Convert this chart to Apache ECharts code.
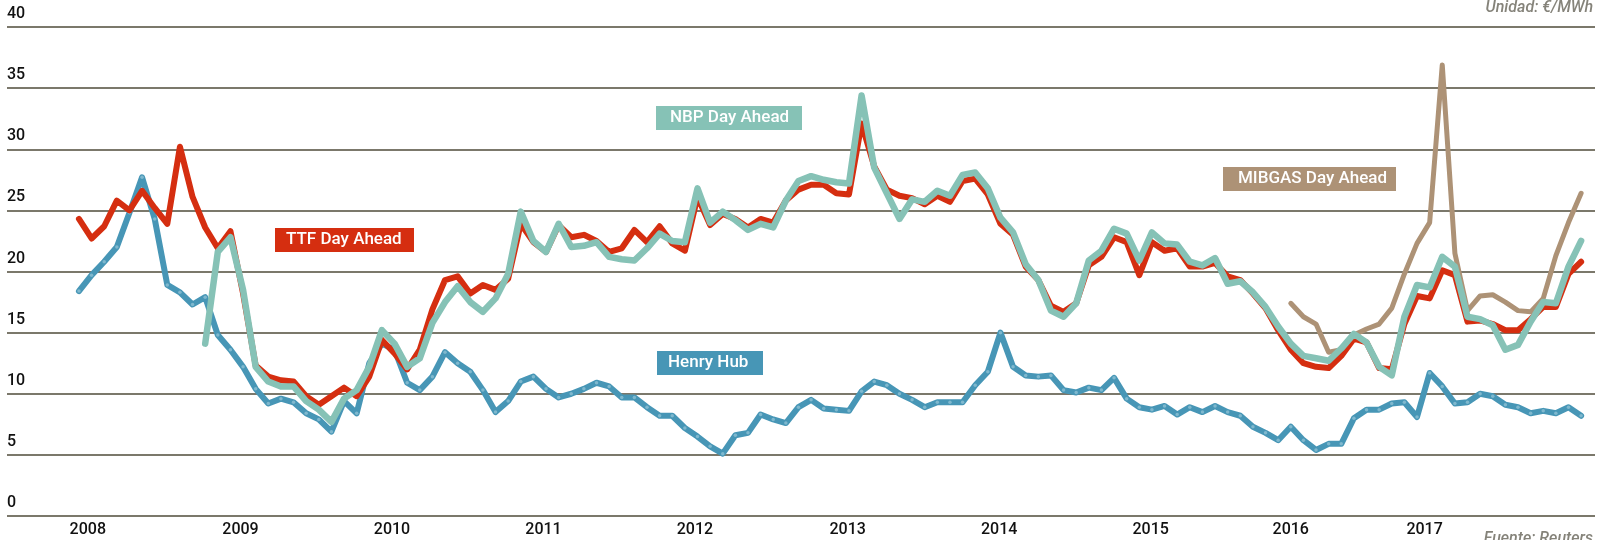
<!DOCTYPE html>
<html>
<head>
<meta charset="utf-8">
<script src="https://cdn.jsdelivr.net/npm/echarts@6/dist/echarts.min.js"></script>
<style>
  html, body { margin: 0; padding: 0; background: #fff; }
  #chart { width: 1610px; height: 540px; }
</style>
</head>
<body>
<div id="chart"></div>
<script>
// monthly averages, Jan 2008 - Dec 2017 (index 0 = 2008-01)
var henryHub = [
  18.4, 19.7, 20.8, 22.0, 24.8, 27.7, 24.3, 18.9, 18.3, 17.3, 17.9, 14.8,
  13.6, 12.2, 10.4, 9.2, 9.6, 9.3, 8.4, 7.9, 6.9, 9.4, 8.4, 12.5,
  14.1, 13.6, 10.9, 10.3, 11.4, 13.4, 12.5, 11.8, 10.3, 8.5, 9.4, 11.0,
  11.4, 10.4, 9.7, 10.0, 10.4, 10.9, 10.6, 9.7, 9.7, 8.9, 8.2, 8.2,
  7.2, 6.5, 5.7, 5.1, 6.6, 6.8, 8.3, 7.9, 7.6, 8.9, 9.5, 8.8,
  8.7, 8.6, 10.2, 11.0, 10.7, 10.0, 9.5, 8.9, 9.3, 9.3, 9.3, 10.7,
  11.8, 15.0, 12.2, 11.5, 11.4, 11.5, 10.3, 10.1, 10.5, 10.3, 11.3, 9.6,
  8.9, 8.7, 9.0, 8.3, 8.9, 8.5, 9.0, 8.5, 8.2, 7.3, 6.8, 6.2,
  7.3, 6.2, 5.4, 5.9, 5.9, 8.0, 8.7, 8.7, 9.2, 9.3, 8.1, 11.7,
  10.6, 9.2, 9.3, 10.0, 9.8, 9.1, 8.9, 8.4, 8.6, 8.4, 8.9, 8.2
]

var ttf = [
  24.3, 22.7, 23.7, 25.8, 25.0, 26.6, 25.2, 23.9, 30.2, 26.1, 23.6, 21.9,
  23.3, 18.2, 12.3, 11.4, 11.1, 11.0, 9.8, 9.1, 9.8, 10.5, 9.8, 11.4,
  14.4, 13.3, 12.0, 13.6, 16.9, 19.3, 19.6, 18.2, 18.9, 18.5, 19.4, 23.9,
  22.4, 21.6, 23.8, 22.8, 23.0, 22.5, 21.6, 21.9, 23.4, 22.4, 23.7, 22.3,
  21.7, 26.1, 23.8, 24.7, 24.3, 23.6, 24.3, 24.0, 25.8, 26.7, 27.1, 27.1,
  26.4, 26.3, 32.1, 28.6, 26.7, 26.2, 26.0, 25.5, 26.2, 25.7, 27.4, 27.6,
  26.3, 23.9, 23.0, 20.4, 19.3, 17.2, 16.7, 17.4, 20.5, 21.2, 22.8, 22.4,
  19.7, 22.4, 21.7, 21.9, 20.4, 20.4, 20.7, 19.6, 19.3, 18.2, 17.0, 15.2,
  13.6, 12.5, 12.2, 12.1, 13.1, 14.5, 14.2, 12.1, 12.0, 15.7, 18.0, 17.8,
  20.1, 19.7, 15.9, 16.0, 15.7, 15.2, 15.2, 16.1, 17.1, 17.1, 19.8, 20.8
]

// NBP series starts Nov 2008
var nbpStart = 10
var nbp = [
  14.1, 21.6,
  22.8, 18.5, 12.2, 11.0, 10.6, 10.6, 9.4, 8.7, 7.7, 9.6, 10.3, 12.2,
  15.2, 14.1, 12.2, 12.9, 15.8, 17.5, 18.8, 17.5, 16.7, 17.8, 19.8, 24.9,
  22.5, 21.6, 23.9, 22.0, 22.1, 22.4, 21.2, 21.0, 20.9, 21.9, 23.1, 22.5,
  22.4, 26.8, 24.0, 24.9, 24.2, 23.4, 23.9, 23.6, 25.8, 27.4, 27.8, 27.5,
  27.3, 27.2, 34.4, 28.5, 26.4, 24.3, 25.9, 25.7, 26.6, 26.2, 27.9, 28.1,
  26.8, 24.4, 23.2, 20.6, 19.3, 16.8, 16.3, 17.4, 20.9, 21.7, 23.5, 23.1,
  20.9, 23.2, 22.3, 22.2, 20.8, 20.5, 21.1, 19.0, 19.2, 18.3, 17.1, 15.5,
  14.1, 13.1, 12.9, 12.7, 13.7, 14.9, 14.2, 12.2, 11.5, 16.3, 18.9, 18.7,
  21.2, 20.4, 16.3, 16.1, 15.6, 13.6, 14.0, 15.9, 17.5, 17.4, 20.4, 22.5
]

// MIBGAS series starts Jan 2016
var mibgasStart = 96
var mibgas = [
  17.4, 16.3, 15.7, 13.4, 13.6, 14.8, 15.3, 15.7, 17.0, 19.8, 22.3, 24.0,
  36.9, 21.5, 16.8, 18.0, 18.1, 17.5, 16.8, 16.7, 17.8, 21.3, 24.0, 26.4
]

// year labels and where they sit on the month axis
var yearLabels = ['2008', '2009', '2010', '2011', '2012', '2013', '2014', '2015', '2016', '2017']
var yearLabelPos = [0.7, 12.8, 24.8, 36.8, 48.8, 60.9, 72.9, 84.9, 96.0, 106.6]

var yTicks = [0, 5, 10, 15, 20, 25, 30, 35, 40]

var colors = {
  ttf: '#d52e10',
  nbp: '#86c2b6',
  hh: '#4796b6',
  mibgas: '#ad9276',
  grid: '#7b786b'
}

function toPoints(values, start) {
  return values.map(function(v, k) {
    return [start + k, v]
  })
}

function lineSeries(name, data, color, width, z) {
  return {
    name: name,
    type: 'line',
    data: data,
    z: z,
    showSymbol: false,
    symbol: 'none',
    lineStyle: { color: color, width: width, cap: 'round', join: 'round' },
    itemStyle: { color: color },
    emphasis: { disabled: true }
  }
}

function labelBox(text, color, left, top, width, padLeft) {
  return {
    type: 'group',
    left: left,
    top: top,
    children: [
      { type: 'rect', shape: { x: 0, y: 0, width: width, height: 24 }, style: { fill: color } },
      {
        type: 'text',
        x: padLeft,
        y: 12,
        style: {
          text: text,
          fill: '#ffffff',
          font: '500 17px Roboto',
          align: 'left',
          verticalAlign: 'middle'
        }
      }
    ]
  }
}

var chart = echarts.init(document.getElementById('chart'))

var hhSeries = lineSeries('Henry Hub', toPoints(henryHub, 0), colors.hh, 6, 2)
hhSeries.showSymbol = true
hhSeries.symbol = 'circle'
hhSeries.symbolSize = 3.5
hhSeries.itemStyle = { color: '#7fb8ce', borderWidth: 0 }

var option = {
  animation: false,
  backgroundColor: '#ffffff',
  grid: { left: 7, right: 15, top: 27, bottom: 24 },
  xAxis: {
    type: 'value',
    min: -5.7,
    max: 120.1,
    axisLine: { show: false },
    axisTick: { show: false },
    splitLine: { show: false },
    axisLabel: {
      customValues: yearLabelPos,
      margin: 6,
      color: '#111111',
      fontFamily: 'Roboto',
      fontWeight: 500,
      fontSize: 16,
      formatter: function(v) {
        var k = yearLabelPos.indexOf(v)
        return k >= 0 ? yearLabels[k] : ''
      }
    }
  },
  yAxis: {
    type: 'value',
    min: yTicks[0],
    max: yTicks[yTicks.length - 1],
    interval: 5,
    axisLine: { show: false },
    axisTick: { show: false },
    splitLine: { show: true, lineStyle: { color: colors.grid, width: 2 } },
    axisLabel: {
      inside: true,
      margin: 0,
      align: 'left',
      verticalAlign: 'bottom',
      padding: [0, 0, 5, 0],
      color: '#111111',
      fontFamily: 'Roboto',
      fontWeight: 500,
      fontSize: 16
    }
  },
  graphic: [
    {
      type: 'text',
      right: 17,
      top: 0,
      style: { text: 'Unidad: €/MWh', fill: '#85837a', font: 'italic 500 16px Roboto' }
    },
    {
      type: 'text',
      right: 17,
      top: 531,
      style: { text: 'Fuente: Reuters', fill: '#85837a', font: 'italic 500 16px Roboto' }
    },
    labelBox('TTF Day Ahead', colors.ttf, 275, 228, 139, 11),
    labelBox('NBP Day Ahead', colors.nbp, 656, 106, 146, 14),
    labelBox('Henry Hub', colors.hh, 657, 351, 106, 11),
    labelBox('MIBGAS Day Ahead', colors.mibgas, 1223, 167, 173, 15)
  ],
  series: [
    hhSeries,
    lineSeries('MIBGAS Day Ahead', toPoints(mibgas, mibgasStart), colors.mibgas, 5, 3),
    lineSeries('TTF Day Ahead', toPoints(ttf, 0), colors.ttf, 6, 4),
    lineSeries('NBP Day Ahead', toPoints(nbp, nbpStart), colors.nbp, 6.5, 5)
  ]
}

chart.setOption(option)
</script>
</body>
</html>
